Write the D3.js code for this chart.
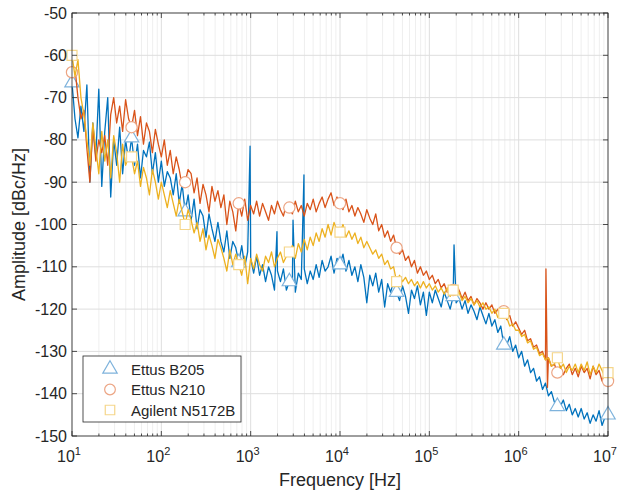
<!DOCTYPE html>
<html>
<head>
<meta charset="utf-8">
<script src="https://cdn.jsdelivr.net/npm/d3@7"></script>
<style>
  body { margin: 0; background: #fff; }
  text { font-family: "Liberation Sans", Arial, sans-serif; fill: #262626; }
</style>
</head>
<body>
<script>
// frequency grid: 30 points per decade, 10 Hz .. 10 MHz
var mantissas = [1.000, 1.080, 1.166, 1.259, 1.359, 1.468, 1.585, 1.711, 1.848, 1.995,
                 2.154, 2.326, 2.512, 2.712, 2.929, 3.162, 3.415, 3.687, 3.981, 4.299,
                 4.642, 5.012, 5.412, 5.843, 6.310, 6.813, 7.356, 7.943, 8.577, 9.261];
var decades = [1e1, 1e2, 1e3, 1e4, 1e5, 1e6];
var lastFreq = 1e7;

// Ettus B205 [dBc/Hz]
var b205 = [
  -66.5, -75, -79.5, -72, -78, -67, -90, -76, -84, -68,
  -91, -78, -70, -93.5, -80, -86, -77, -88, -80, -85,
  -79.5, -86, -81, -89, -82.5, -84, -80.5, -88, -83, -90,
  -85, -91, -87.5, -89, -93, -88, -95, -90.5, -97, -93,
  -99, -94, -101, -96.5, -98, -103, -97.5, -101, -104, -99.5,
  -104, -106.5, -101.5, -108, -104, -105.5, -109, -105, -110, -106.5,
  -108, -111.5, -107.5, -112, -109.5, -113.5, -110, -112, -115.5, -111,
  -113.5, -110.5, -115.5, -113.5, -114, -116, -111.5, -113, -110.5, -114,
  -111, -113, -109.5, -112.5, -108.5, -111, -110, -107.5, -111.5, -108,
  -109.5, -107, -111, -108.5, -112, -110, -113.5, -109.5, -112.5, -118.5,
  -112, -114.5, -111.5, -116, -113, -119.5, -114, -116, -113.5, -116,
  -118, -114.5, -117, -121, -115.5, -117.5, -114.5, -119, -116, -121.5,
  -116, -118.5, -115.5, -117.5, -119.5, -116, -118, -120, -117, -118.5,
  -117.5, -120, -118, -121, -119, -120.5, -122.5, -119.5, -121.5, -123.5,
  -121, -124, -122.5, -125.5, -124, -128.5, -128.5, -126.5, -130, -128.5,
  -131.5, -130, -133.5, -132, -135, -134, -137, -136, -139, -137.5,
  -140.5, -139.5, -142, -143, -143, -141.5, -144, -142.5, -145, -143.5,
  -145.5, -143.5, -146, -144.5, -147, -145, -146.5, -144, -147.5, -145.5,
  -145
];
// Ettus N210 [dBc/Hz]
var n210 = [
  -64, -63, -70, -75, -73, -82, -90, -77, -85, -80,
  -83, -79, -86, -74, -70, -76, -72, -78, -70.5, -75,
  -77, -73, -79, -74.5, -81, -76, -78, -83, -77.5, -81,
  -84, -80, -86, -82.5, -88, -84, -87, -91, -90, -87,
  -88, -92.5, -89, -95, -90.5, -93, -97, -91, -94.5, -92,
  -96, -93, -100, -94.5, -97, -101.5, -95, -98, -94, -99,
  -95.5, -97.5, -94.5, -98, -95, -97, -99, -95.5, -97.5, -94.5,
  -96.5, -98, -95, -96, -97.5, -94.5, -97, -95.5, -98, -95,
  -96.5, -94, -97, -95, -93.5, -96, -94, -92.5, -95.5, -93.5,
  -95, -96.5, -94, -97, -95.5, -98, -96, -97.5, -99.5, -96.5,
  -98.5, -100, -97.5, -101.5, -100, -103, -101.5, -104, -102.5, -105.5,
  -107, -106, -108.5, -107.5, -110, -108.5, -111.5, -110, -112, -111,
  -113, -112, -114, -113, -115, -114, -116, -115.5, -115.5, -116.5,
  -115.5, -117.5, -116, -118, -117, -119, -117.5, -118.5, -120, -118.5,
  -120, -119, -121, -120, -122, -120.5, -122.5, -121.5, -124, -123,
  -124.5, -126, -125, -127.5, -127, -129, -128.5, -130.5, -130, -132,
  -131.5, -133.5, -133, -135, -133.5, -135.5, -134, -133, -135.5, -134,
  -136, -133.5, -135, -134, -136.5, -133.5, -135.5, -134.5, -137, -135,
  -137
];
// Agilent N5172B [dBc/Hz]
var n5172b = [
  -60, -65, -61, -70, -74, -80, -86, -76, -82, -88,
  -78, -85, -80, -89, -79, -83, -90, -81, -86, -84,
  -84, -88, -85, -91, -86.5, -89, -93, -87, -90, -94,
  -90, -93, -96, -92, -95, -98, -94, -97, -100, -96.5,
  -99, -102, -99.5, -104, -101, -106, -102.5, -105, -108, -103.5,
  -105.5, -108, -111, -106, -109.5, -107, -109.5, -112, -107.5, -114,
  -108, -110.5, -107, -109.5, -111, -107.5, -109, -106.5, -110, -108,
  -106.5, -109, -107.5, -106.5, -105, -108, -104.5, -106.5, -103.5, -106,
  -103, -105, -102, -104, -101, -103, -100, -102.5, -99.5, -101.5,
  -101.8, -100, -103, -101.5, -103.5, -102, -104.5, -103, -105.5, -104,
  -105.5, -107, -106, -108, -107, -109.5, -108.5, -110.5, -110, -113.5,
  -112, -113.5, -112.5, -114, -113, -114.5, -113.5, -115, -113.5, -115,
  -114, -115.5, -114.5, -116, -115, -116.5, -115, -117, -115.5, -116.5,
  -116, -118, -117, -118.5, -117.5, -119, -118, -119.5, -118.5, -120,
  -119.5, -121, -120, -122, -121, -121, -122, -124, -123.5, -125,
  -125, -126.5, -126, -128, -127.5, -129.5, -129, -131, -130.5, -132,
  -131.5, -133.5, -133, -131.5, -134, -133, -135, -133.5, -134.5, -133,
  -135, -133, -134.5, -132.5, -135.5, -133.5, -135, -133, -134.5, -136,
  -135
];

// narrow spurs [freq Hz, dBc/Hz]
var b205Spurs = [[985, -81.5], [1970, -101.7], [2980, -99], [3950, -88.3], [189000, -104.8]];
var n210Spurs = [[2020000, -110.5], [2100000, -138.5]];

// samples that carry a marker
var markerIdx = [0, 20, 38, 56, 73, 90, 109, 128, 145, 163, 180];

var yTicks = [-150, -140, -130, -120, -110, -100, -90, -80, -70, -60, -50];
var xTickExp = [1, 2, 3, 4, 5, 6, 7];

var names = ["Ettus B205", "Ettus N210", "Agilent N5172B"];
var colors = ["#0072BD", "#D95319", "#EDB120"];
var markerColors = ["#7fb3dc", "#eca584", "#f5d68a"];
var symbols = [d3.symbolTriangle, d3.symbolCircle, d3.symbolSquare];

var freqs = [];
decades.forEach(function(d) {
  mantissas.forEach(function(m) { freqs.push(d * m); });
});
freqs.push(lastFreq);

var W = 621, H = 491;
var pLeft = 72, pRight = 608, pTop = 13, pBottom = 436;

var x = d3.scaleLog().domain([10, 1e7]).range([pLeft, pRight]);
var y = d3.scaleLinear().domain([-150, -50]).range([pBottom, pTop]);

var svg = d3.select("body").append("svg")
  .attr("width", W)
  .attr("height", H);

// minor grid (x)
var minor = [];
decades.forEach(function(d) {
  for (var k = 2; k <= 9; k++) minor.push(d * k);
});
svg.append("g").selectAll("line")
  .data(minor)
  .enter().append("line")
  .attr("x1", function(d) { return x(d); })
  .attr("x2", function(d) { return x(d); })
  .attr("y1", pTop).attr("y2", pBottom)
  .attr("stroke", "#efefef")
  .attr("stroke-width", 1);

// major grid
svg.append("g").selectAll("line")
  .data(xTickExp)
  .enter().append("line")
  .attr("x1", function(d) { return x(Math.pow(10, d)); })
  .attr("x2", function(d) { return x(Math.pow(10, d)); })
  .attr("y1", pTop).attr("y2", pBottom)
  .attr("stroke", "#dedede");
svg.append("g").selectAll("line")
  .data(yTicks)
  .enter().append("line")
  .attr("x1", pLeft).attr("x2", pRight)
  .attr("y1", function(d) { return y(d); })
  .attr("y2", function(d) { return y(d); })
  .attr("stroke", "#dedede");

// traces, each followed by its own markers (later traces cover earlier markers)
var series = [b205, n210, n5172b];
var spurs = [b205Spurs, n210Spurs, []];
var plot = svg.append("g");

var line = d3.line()
  .x(function(d) { return x(d[0]); })
  .y(function(d) { return y(d[1]); });

series.forEach(function(vals, si) {
  var pts = vals.map(function(v, i) { return [freqs[i], v]; });
  pts = pts.concat(spurs[si]).sort(function(a, b) { return a[0] - b[0]; });
  plot.append("path")
    .datum(pts)
    .attr("d", line)
    .attr("fill", "none")
    .attr("stroke", colors[si])
    .attr("stroke-width", 1.3)
    .attr("stroke-linejoin", "round");

  plot.append("g").selectAll("path")
    .data(markerIdx)
    .enter().append("path")
    .attr("d", d3.symbol().type(symbols[si]).size(si === 0 ? 90 : 100))
    .attr("transform", function(i) {
      return "translate(" + x(freqs[i]) + "," + y(vals[i]) + ")";
    })
    .attr("fill", "#fff")
    .attr("stroke", markerColors[si])
    .attr("stroke-width", 1.2);
});

// axes box and ticks
var axisColor = "#262626";
svg.append("rect")
  .attr("x", pLeft).attr("y", pTop)
  .attr("width", pRight - pLeft).attr("height", pBottom - pTop)
  .attr("fill", "none")
  .attr("stroke", axisColor)
  .attr("stroke-width", 0.8);

var ticks = svg.append("g").attr("stroke", axisColor).attr("stroke-width", 0.8);
xTickExp.forEach(function(e) {
  var px = x(Math.pow(10, e));
  ticks.append("line").attr("x1", px).attr("x2", px).attr("y1", pBottom).attr("y2", pBottom - 5);
  ticks.append("line").attr("x1", px).attr("x2", px).attr("y1", pTop).attr("y2", pTop + 5);
});
minor.forEach(function(f) {
  var px = x(f);
  ticks.append("line").attr("x1", px).attr("x2", px).attr("y1", pBottom).attr("y2", pBottom - 2.5);
  ticks.append("line").attr("x1", px).attr("x2", px).attr("y1", pTop).attr("y2", pTop + 2.5);
});
yTicks.forEach(function(t) {
  var py = y(t);
  ticks.append("line").attr("x1", pLeft).attr("x2", pLeft + 5).attr("y1", py).attr("y2", py);
  ticks.append("line").attr("x1", pRight).attr("x2", pRight - 5).attr("y1", py).attr("y2", py);
});

// tick labels
svg.append("g").selectAll("text")
  .data(yTicks)
  .enter().append("text")
  .attr("x", pLeft - 5)
  .attr("y", function(d) { return y(d) + 5.5; })
  .attr("text-anchor", "end")
  .style("font-size", "16px")
  .text(function(d) { return d; });

var xl = svg.append("g").selectAll("text")
  .data(xTickExp)
  .enter().append("text")
  .attr("x", function(d) { return x(Math.pow(10, d)) - 3; })
  .attr("y", 462)
  .attr("text-anchor", "middle")
  .style("font-size", "16px");
xl.append("tspan").text("10");
xl.append("tspan")
  .attr("dy", -7)
  .style("font-size", "11px")
  .text(function(d) { return d; });

// axis labels
svg.append("text")
  .attr("x", (pLeft + pRight) / 2)
  .attr("y", 486)
  .attr("text-anchor", "middle")
  .style("font-size", "18px")
  .text("Frequency [Hz]");

svg.append("text")
  .attr("transform", "translate(25," + ((pTop + pBottom) / 2) + ") rotate(-90)")
  .attr("text-anchor", "middle")
  .style("font-size", "18px")
  .text("Amplitude [dBc/Hz]");

// legend
var lg = svg.append("g").attr("transform", "translate(83,356)");
lg.append("rect")
  .attr("width", 158).attr("height", 66)
  .attr("fill", "#fff")
  .attr("stroke", axisColor)
  .attr("stroke-width", 0.8);
names.forEach(function(n, i) {
  var cy = 13 + i * 20.5;
  lg.append("path")
    .attr("d", d3.symbol().type(symbols[i]).size(90))
    .attr("transform", "translate(27," + cy + ")")
    .attr("fill", "#fff")
    .attr("stroke", markerColors[i])
    .attr("stroke-width", 1.2);
  lg.append("text")
    .attr("x", 48)
    .attr("y", cy + 5.5)
    .style("font-size", "15px")
    .text(n);
});
</script>
</body>
</html>
